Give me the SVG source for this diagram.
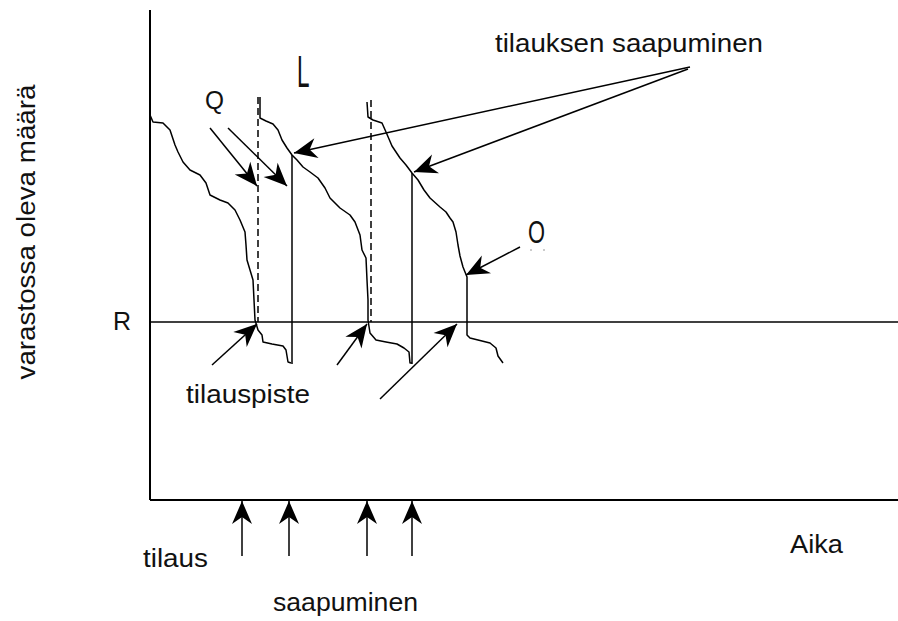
<svg xmlns="http://www.w3.org/2000/svg" width="898" height="621" viewBox="0 0 898 621">
<style>
text{font-family:"Liberation Sans",Arial,sans-serif;font-size:25px;fill:#111}
.ax{stroke:#000;stroke-width:2;fill:none}
.ln{stroke:#000;stroke-width:1.5;fill:none}
.cv{stroke:#000;stroke-width:1.5;fill:none;stroke-linejoin:round}
.da{stroke:#000;stroke-width:1.5;fill:none;stroke-dasharray:7,4}
.ar{stroke:#000;stroke-width:1.5;fill:none;marker-end:url(#ah)}
</style>
<defs>
<marker id="ah" viewBox="-26 -12 28 24" refX="0" refY="0" markerWidth="28" markerHeight="24" markerUnits="userSpaceOnUse" orient="auto">
<path d="M0,0 L-23,-10 L-16,0 L-23,10 Z" fill="#000"/>
</marker>
</defs>
<rect width="898" height="621" fill="#fff"/>
<g id="axes">
<line class="ax" x1="150" y1="10" x2="150" y2="500"/>
<line class="ax" x1="150" y1="500" x2="898" y2="500"/>
<line class="ln" x1="150" y1="322" x2="898" y2="322"/>
</g>
<g id="curves">
<polyline class="cv" points="150,115 153,122 163,123 170,130 175,145 178,152 183,162 190,170 200,175 206,183 210,195 220,200 228,203 235,210 240,220 245,232 246,245 247,260 250,270 253,280 254,300 255,320 258,330 262,335 263,342 272,344 283,346 286,350 288,362 291,363"/>
<line class="ln" x1="292" y1="155" x2="292" y2="364"/>
<line class="da" x1="258" y1="97" x2="258" y2="322"/>
<polyline class="cv" points="260,97 260,118 266,121 273,124 278,130 282,140 287,148 292,155 297,160 303,167 310,172 318,178 325,188 330,198 340,208 350,215 355,222 360,235 362,250 366,258 367,280 368,300 368,320 370,333 376,340 386,342 397,344 404,348 409,352 410,363 412,363"/>
<line class="ln" x1="412" y1="173" x2="412" y2="364"/>
<line class="da" x1="371" y1="100" x2="371" y2="322"/>
<polyline class="cv" points="367,102 368,117 373,120 382,123 386,132 392,146 400,158 406,165 412,173 418,180 424,190 430,198 440,207 446,212 450,218 453,222 456,232 458,245 460,256 463,267 467,277 467,335 470,338 478,340 490,343 496,348 498,356 503,363"/>
</g>
<g id="connectors">
<line class="ar" x1="210" y1="128" x2="257" y2="186"/>
<line class="ar" x1="228" y1="128" x2="287" y2="186"/>
<line class="ar" x1="690" y1="67" x2="294" y2="153"/>
<line class="ar" x1="688" y1="69" x2="414" y2="172"/>
<line class="ar" x1="520" y1="247" x2="466" y2="275"/>
<line class="ar" x1="212" y1="365" x2="257" y2="324"/>
<line class="ar" x1="337" y1="365" x2="367" y2="324"/>
<line class="ar" x1="380" y1="399" x2="457" y2="324"/>
<line class="ar" x1="242" y1="556" x2="242" y2="501"/>
<line class="ar" x1="289" y1="556" x2="289" y2="501"/>
<line class="ar" x1="367" y1="556" x2="367" y2="501"/>
<line class="ar" x1="412" y1="556" x2="412" y2="501"/>
</g>
<g id="labels">
<text x="495" y="52" textLength="268" lengthAdjust="spacingAndGlyphs">tilauksen saapuminen</text>
<text x="205" y="109" textLength="19" lengthAdjust="spacingAndGlyphs">Q</text>
<text transform="translate(297,87) scale(0.9,1.75)">L</text>
<text x="528" y="243" style="font-size:31px" textLength="17" lengthAdjust="spacingAndGlyphs">O</text>
<circle cx="531" cy="250" r="0.8" fill="#888"/>
<circle cx="544" cy="250" r="0.8" fill="#888"/>
<text x="113" y="330">R</text>
<text x="186" y="403" textLength="124" lengthAdjust="spacingAndGlyphs">tilauspiste</text>
<text x="143" y="567" textLength="65" lengthAdjust="spacingAndGlyphs">tilaus</text>
<text x="273" y="611" textLength="145" lengthAdjust="spacingAndGlyphs">saapuminen</text>
<text x="790" y="553" textLength="53" lengthAdjust="spacingAndGlyphs">Aika</text>
<text transform="translate(35,232) rotate(-90)" text-anchor="middle" textLength="295" lengthAdjust="spacingAndGlyphs">varastossa oleva määrä</text>
</g>
</svg>
